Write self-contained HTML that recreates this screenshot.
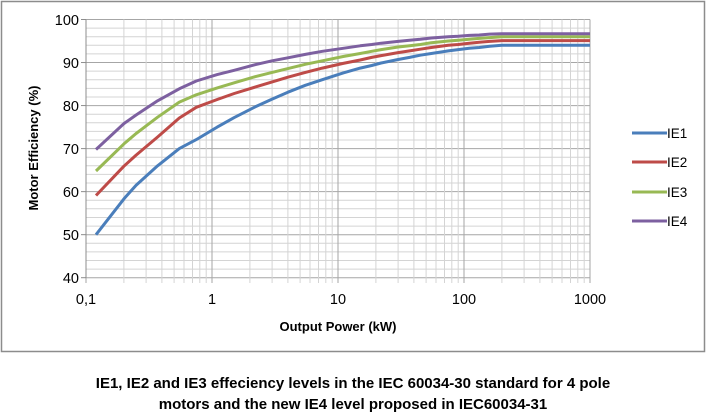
<!DOCTYPE html>
<html><head><meta charset="utf-8"><style>
body{margin:0;background:#fff;width:706px;height:415px;overflow:hidden;font-family:"Liberation Sans",Arial,sans-serif}
</style></head><body>
<svg id="s" width="706" height="415" xmlns="http://www.w3.org/2000/svg" font-family="Liberation Sans, Arial, sans-serif">
<rect x="1.5" y="1.5" width="703" height="350" fill="#fff" stroke="#8c8c8c" stroke-width="1.5"/>
<g id="grid"></g>
<g font-size="14.5" fill="#000" text-anchor="end">
<text x="79" y="25">100</text><text x="79" y="68">90</text><text x="79" y="111">80</text>
<text x="79" y="154">70</text><text x="79" y="197">60</text><text x="79" y="240">50</text><text x="79" y="283">40</text>
</g>
<g font-size="14.5" fill="#000" text-anchor="middle">
<text x="86" y="304">0,1</text><text x="212" y="304">1</text><text x="338" y="304">10</text>
<text x="464" y="304">100</text><text x="590" y="304">1000</text>
</g>
<text x="338" y="331" font-size="13" font-weight="bold" text-anchor="middle">Output Power (kW)</text>
<text transform="translate(38,148) rotate(-90)" font-size="13" font-weight="bold" text-anchor="middle">Motor Efficiency (%)</text>
<g id="lines"></g>
<g font-size="13.5" fill="#000">
<line x1="632" y1="133" x2="667" y2="133" stroke="#4a7ebb" stroke-width="3"/><text x="667" y="138">IE1</text>
<line x1="632" y1="162" x2="667" y2="162" stroke="#be4b48" stroke-width="3"/><text x="667" y="167">IE2</text>
<line x1="632" y1="192" x2="667" y2="192" stroke="#98b954" stroke-width="3"/><text x="667" y="197">IE3</text>
<line x1="632" y1="221" x2="667" y2="221" stroke="#7d60a0" stroke-width="3"/><text x="667" y="226">IE4</text>
</g>
<g font-size="15" font-weight="bold" text-anchor="middle">
<text x="353" y="388">IE1, IE2 and IE3 effeciency levels in the IEC 60034-30 standard for 4 pole</text>
<text x="353" y="409">motors and the new IE4 level proposed in IEC60034-31</text>
</g>
</svg>
<script>
var X0=86,D=126,Y0=277.7,YS=(277.7-19.5)/60;
function px(v){return X0+D*(Math.log10(v)+1)}
function py(v){return Y0-(v-40)*YS}
var g=document.getElementById('grid'),h='';
for(var v=40;v<=100;v+=2){var y=py(v).toFixed(1);h+='<line x1="86" x2="590" y1="'+y+'" y2="'+y+'" stroke="'+(v%10?'#d4d4d4':'#a6a6a6')+'" stroke-width="1"/>';}
for(var e=-1;e<3;e++)for(var k=1;k<10;k++){var x=px(k*Math.pow(10,e)).toFixed(1);h+='<line y1="19.5" y2="283" x1="'+x+'" x2="'+x+'" stroke="'+(k==1?'#a6a6a6':'#d4d4d4')+'" stroke-width="1"/>';}
h+='<line y1="19.5" y2="283" x1="590" x2="590" stroke="#a6a6a6"/>';
h+='<line y1="19.5" y2="277.7" x1="86" x2="86" stroke="#8c8c8c"/>';
for(var v=40;v<=100;v+=10){h+='<line x1="81" x2="86" y1="'+py(v)+'" y2="'+py(v)+'" stroke="#8c8c8c"/>';}
g.innerHTML=h;
var P=[0.12,0.2,0.25,0.37,0.55,0.75,1.1,1.5,2.2,3,4,5.5,7.5,11,15,18.5,22,30,37,45,55,75,90,110,132,160,200,1000];
var S=[["#4a7ebb",[50,58.3,61.5,66,70,72.1,75,77.2,79.7,81.5,83.1,84.7,86,87.6,88.7,89.3,89.9,90.7,91.2,91.7,92.1,92.7,93,93.3,93.5,93.8,94,94]],
["#be4b48",[59.1,65.9,68.5,72.7,77.1,79.6,81.4,82.8,84.3,85.5,86.6,87.7,88.7,89.8,90.6,91.2,91.6,92.3,92.7,93.1,93.5,94,94.2,94.5,94.7,94.9,95.1,95.1]],
["#98b954",[64.8,71.1,73.5,77.3,80.8,82.5,84.1,85.3,86.7,87.7,88.6,89.6,90.4,91.4,92.1,92.6,93,93.6,93.9,94.2,94.6,95,95.2,95.4,95.6,95.8,96,96]],
["#7d60a0",[69.8,75.8,77.8,81.1,83.9,85.7,87.2,88.2,89.5,90.4,91.1,91.9,92.6,93.3,93.9,94.2,94.5,94.9,95.2,95.4,95.7,96,96.1,96.3,96.4,96.6,96.7,96.7]]];
var l='';S.forEach(function(s){var pts=P.map(function(p,i){return px(p).toFixed(1)+','+py(s[1][i]).toFixed(1)}).join(' ');
l+='<polyline points="'+pts+'" fill="none" stroke="'+s[0]+'" stroke-width="3" stroke-linejoin="round"/>';});
document.getElementById('lines').innerHTML=l;
</script>
</body></html>
